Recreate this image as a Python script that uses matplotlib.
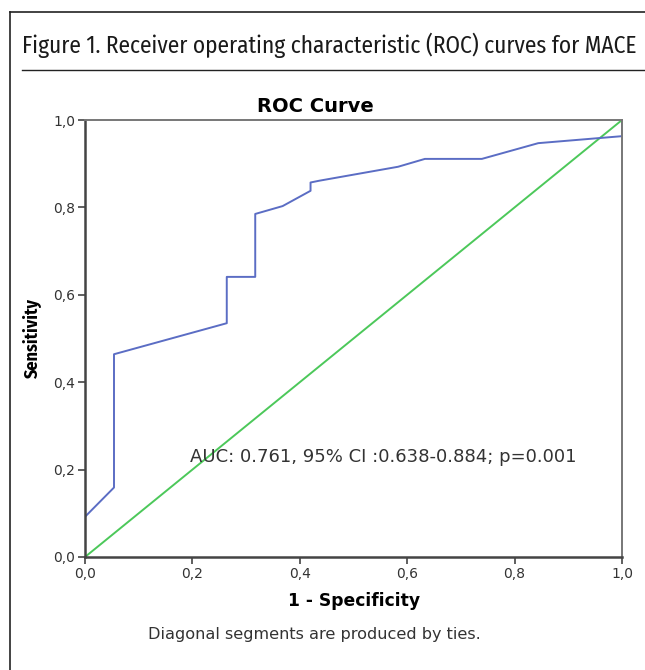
import numpy as np
import matplotlib.pyplot as plt
from matplotlib.lines import Line2D

# ROC curve points
fpr = [0.0, 0.0, 0.054, 0.054, 0.264, 0.264, 0.317, 0.317, 0.368, 0.420,
       0.420, 0.436, 0.583, 0.633, 0.739, 0.844, 1.0, 1.0]
tpr = [0.0, 0.092, 0.159, 0.464, 0.535, 0.641, 0.641, 0.785, 0.803, 0.838,
       0.857, 0.861, 0.893, 0.911, 0.911, 0.947, 0.963, 1.0]
ref_line = [0.0, 1.0]
ticks = [0.0, 0.2, 0.4, 0.6, 0.8, 1.0]
tick_labels = ["0,0", "0,2", "0,4", "0,6", "0,8", "1,0"]

plt.rcParams['font.family'] = ['DejaVu Sans']
narrow = ['Fira Sans Condensed', 'DejaVu Sans']

W, H = 645, 670
fig = plt.figure(figsize=(W / 100, H / 100), dpi=100)

# outer frame and header
fig.add_artist(Line2D([10 / W, 10 / W], [0, 1 - 12 / H], color='#222222', lw=1.2))
fig.add_artist(Line2D([10 / W, 1], [1 - 12 / H, 1 - 12 / H], color='#222222', lw=1.2))
fig.add_artist(Line2D([22 / W, 1], [1 - 70 / H, 1 - 70 / H], color='#222222', lw=1.0))
fig.text(22 / W, 1 - 45 / H, "Figure 1. Receiver operating characteristic (ROC) curves for MACE",
         family=narrow, fontsize=16.8, color='#1a1a1a', va='center', ha='left')

ax = fig.add_axes([85 / W, 1 - 557 / H, 537 / W, 437 / H])
ax.plot(ref_line, ref_line, color='#4cc85a', lw=1.4)
ax.plot(fpr, tpr, color='#5b6dc4', lw=1.4)
ax.set_xlim(0, 1)
ax.set_ylim(0, 1)
ax.set_xticks(ticks)
ax.set_xticklabels(tick_labels)
ax.set_yticks(ticks)
ax.set_yticklabels(tick_labels)
ax.tick_params(direction='out', length=5, width=1.2, color='#444444',
               labelsize=10, labelcolor='#333333', pad=2)
for s in ['left', 'bottom']:
    ax.spines[s].set_color('#444444')
    ax.spines[s].set_linewidth(1.8)
for s in ['top', 'right']:
    ax.spines[s].set_color('#777777')
    ax.spines[s].set_linewidth(1.4)

fig.text(315 / W, 1 - 106 / H, "ROC Curve", fontsize=14, fontweight='bold',
         ha='center', va='center')
ax.set_xlabel("1 - Specificity", fontsize=12.3, fontweight='bold', labelpad=8)
ax.set_ylabel("Sensitivity", family=narrow, fontsize=13, fontweight='bold', labelpad=8)
ax.text(0.196, 0.229, "AUC: 0.761, 95% CI :0.638-0.884; p=0.001",
        fontsize=13, color='#333333', va='center', ha='left')

fig.text(314 / W, 1 - 635 / H, "Diagonal segments are produced by ties.",
         fontsize=11.6, color='#333333', ha='center', va='center')

fig.savefig("out.png", dpi=100)
